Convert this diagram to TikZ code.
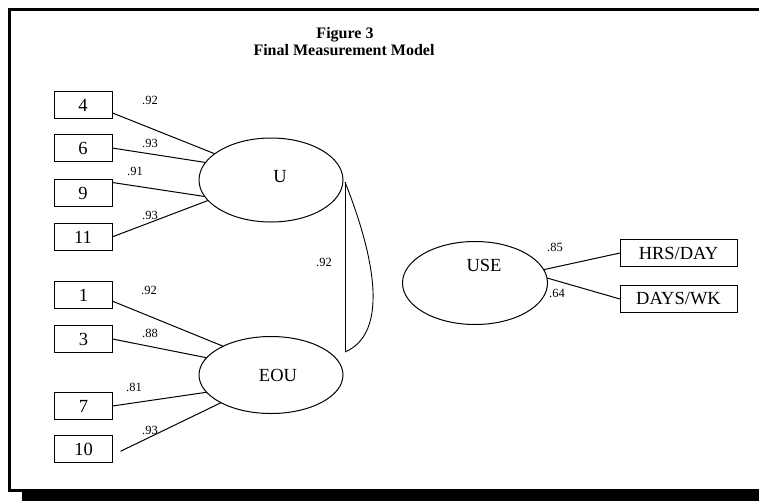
\documentclass[tikz,border=0pt]{standalone}
\usepackage{fontspec}
\setmainfont{Liberation Serif}
\usepackage{tikz}
\usetikzlibrary{shapes.geometric}

\begin{document}
\begin{tikzpicture}[
  x=1pt, y=-1pt,
  ind/.style={rectangle, draw, line width=0.9pt, minimum width=58pt, minimum height=27pt, inner sep=0pt, outer sep=0pt, font=\fontsize{18.5}{18.5}\selectfont},
  wide/.style={ind, minimum width=117pt},
  factor/.style={ellipse, draw, line width=1pt, inner sep=0pt, outer sep=0pt},
  lbl/.style={inner sep=0pt, font=\fontsize{18.5}{18.5}\selectfont},
  coef/.style={inner sep=0pt, font=\fontsize{12.5}{12.5}\selectfont},
  loading/.style={draw, line width=1pt}
]
  \useasboundingbox (0,0) rectangle (759,501);
  % frame with shadow
  \fill (8,8) rectangle (759,11);
  \fill (8,8) rectangle (11,492);
  \fill (8,489) rectangle (22,492);
  \fill (22,489) rectangle (759,501);

  \node[anchor=base, font=\fontsize{16}{17}\selectfont\bfseries] (ttl1) at (345,38) {Figure 3};
  \node[anchor=base, font=\fontsize{16}{17}\selectfont\bfseries] (ttl2) at (344,55) {Final Measurement Model};

  % latent variables
  \node[factor, minimum width=144pt, minimum height=84pt] (U) at (271,180) {};
  \node[factor, minimum width=144pt, minimum height=77pt] (EOU) at (271,375) {};
  \node[factor, minimum width=145pt, minimum height=83pt] (USE) at (475,283) {};
  \node[lbl] (tU) at (280,177) {U};
  \node[lbl] (tEOU) at (278,375) {EOU};
  \node[lbl] (tUSE) at (484,265) {USE};

  % indicators
  \node[ind] (b4) at (83,105) {4};
  \node[ind] (b6) at (83,148) {6};
  \node[ind] (b9) at (83,193) {9};
  \node[ind] (b11) at (83,237) {11};
  \node[ind] (b1) at (83.5,295) {1};
  \node[ind] (b3) at (83.5,339) {3};
  \node[ind] (b7) at (83.5,406) {7};
  \node[ind] (b10) at (83.5,449) {10};
  \node[wide] (hrs) at (678.5,253) {HRS/DAY};
  \node[wide] (days) at (678.5,299) {DAYS/WK};

  \draw[loading] (b4.-15) -- (U.155);
  \draw[loading] (b6.east) -- (U.165);
  \draw[loading] (b9.20) -- (U.194);
  \draw[loading] (b11.east) -- (U.198);
  \draw[loading] (b1.-12) -- (EOU.149);
  \draw[loading] (b3.east) -- (EOU.165);
  \draw[loading] (b7.east) -- (EOU.195);
  \draw[loading, shorten <=9pt] (b10.-12) -- (EOU.209);
  \draw[loading] (USE.11) -- (hrs.west);
  \draw[loading] (USE.4) -- (days.west);

  % correlation
  \coordinate (cU) at (345,182);
  \coordinate (cE) at (345,352);
  \draw[line width=0.9pt] (cU) -- (cE);
  \draw[line width=0.9pt] (cU) .. controls (366,235) and (396,330) .. (cE);

  \node[coef] (c4) at (150,100) {.92};
  \node[coef] (c6) at (150,143) {.93};
  \node[coef] (c9) at (135,171) {.91};
  \node[coef] (c11) at (150,215) {.93};
  \node[coef] (c1) at (149,290) {.92};
  \node[coef] (c3) at (150,333) {.88};
  \node[coef] (c7) at (134,387) {.81};
  \node[coef] (c10) at (150,430) {.93};
  \node[coef] (cr) at (324,262) {.92};
  \node[coef] (chrs) at (555,247) {.85};
  \node[coef] (cdays) at (557,293) {.64};
\end{tikzpicture}
\end{document}
